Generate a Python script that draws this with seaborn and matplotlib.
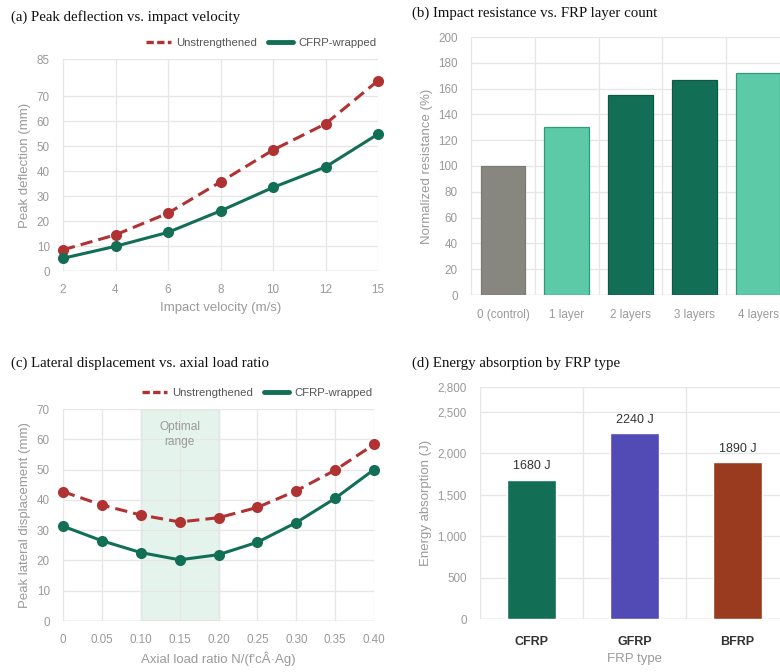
import pandas as pd
import matplotlib.pyplot as plt
import matplotlib.ticker as mticker
from matplotlib.lines import Line2D
import seaborn as sns

# ---- data ----
velocity = ["2", "4", "6", "8", "10", "12", "15"]
defl_unstr = [8.5, 14.5, 23.2, 35.7, 48.5, 59.0, 76.3]
defl_cfrp = [5.1, 9.9, 15.5, 24.1, 33.5, 41.7, 54.9]

layers = ["0 (control)", "1 layer", "2 layers", "3 layers", "4 layers"]
resistance = [100, 130, 155, 167, 172]

load_ratio = [0, 0.05, 0.10, 0.15, 0.20, 0.25, 0.30, 0.35, 0.40]
load_ticks = ["0", "0.05", "0.10", "0.15", "0.20", "0.25", "0.30", "0.35", "0.40"]
disp_unstr = [42.7, 38.3, 35.0, 32.7, 34.1, 37.5, 43.0, 49.8, 58.3]
disp_cfrp = [31.3, 26.5, 22.6, 20.2, 21.9, 26.0, 32.5, 40.5, 50.0]

frp_types = ["CFRP", "GFRP", "BFRP"]
energy = [1680, 2240, 1890]

# ---- style ----
sns.set_theme(style="white")
plt.rcParams["font.family"] = ["Liberation Sans", "DejaVu Sans"]

RED = "#b03232"
GREEN = "#136e56"
LIGHT = "#5cc9a7"
GREY = "#878780"
TICK = "#9a9a9a"
GRID = "#e6e6e6"

W, H = 780, 672
fig = plt.figure(figsize=(W / 100, H / 100), dpi=100)


def add_ax(l, r, t, b):
    return fig.add_axes([l / W, 1 - b / H, (r - l) / W, (b - t) / H])


def base_style(ax):
    for s in ax.spines.values():
        s.set_visible(False)
    ax.grid(True, color=GRID, linewidth=0.9)
    ax.set_axisbelow(True)
    ax.tick_params(colors=GRID, labelcolor=TICK, labelsize=8.4, length=6, width=0.9)
    ax.axhline(0, color="#d4d4d4", linewidth=1.0, zorder=1)


def title(x, y, txt):
    fig.text(x / W, 1 - y / H, txt, family="Liberation Serif", fontsize=10.7,
             color="#111111", va="center", ha="left")


def line_legend(ax):
    handles = [Line2D([], [], color=RED, lw=2.4, ls=(0, (2.2, 1.0))),
               Line2D([], [], color=GREEN, lw=3.5)]
    ax.legend(handles, ["Unstrengthened", "CFRP-wrapped"], loc="lower right",
              bbox_to_anchor=(1.01, 1.03), ncol=2, frameon=False, fontsize=8.2,
              handlelength=2.2, columnspacing=0.9, handletextpad=0.5,
              labelcolor="#555555", borderaxespad=0)


# ---- (a) ----
ax = add_ax(63, 378, 59, 271)
base_style(ax)
df_a = pd.DataFrame({"v": velocity, "u": defl_unstr, "c": defl_cfrp})
sns.lineplot(data=df_a, x="v", y="u", ax=ax, color=RED, lw=2.2, marker="o",
             markersize=8, markeredgewidth=0, clip_on=False, zorder=3)
ax.lines[-1].set_dashes([4, 2])
sns.lineplot(data=df_a, x="v", y="c", ax=ax, color=GREEN, lw=2.2, marker="o",
             markersize=8, markeredgewidth=0, clip_on=False, zorder=3)
ax.set_xlim(0, len(velocity) - 1)
ax.set_ylim(0, 85)
ax.set_yticks([0, 10, 20, 30, 40, 50, 60, 70, 85])
ax.set_xlabel("Impact velocity (m/s)", color=TICK, fontsize=9.5)
ax.set_ylabel("Peak deflection (mm)", color=TICK, fontsize=9.5)
line_legend(ax)
title(11, 17, "(a) Peak deflection vs. impact velocity")

# ---- (b) ----
ax = add_ax(471, 790, 37, 295)
base_style(ax)
df_b = pd.DataFrame({"layer": layers, "res": resistance})
bar_cols = [GREY, LIGHT, GREEN, GREEN, LIGHT]
edge_cols = ["#7a7a74", "#2f9a7a", "#0c5a46", "#0c5a46", "#2f9a7a"]
sns.barplot(data=df_b, x="layer", y="res", hue="layer", palette=bar_cols,
            saturation=1, legend=False, width=0.7, ax=ax, zorder=2)
for p, ec in zip(ax.patches, edge_cols):
    p.set_edgecolor(ec)
    p.set_linewidth(0.9)
ax.set_xlim(-0.5, len(layers) - 0.5)
ax.set_ylim(0, 200)
ax.set_yticks(range(0, 201, 20))
ax.set_xticks([i - 0.5 for i in range(len(layers) + 1)], minor=True)
ax.grid(False, axis="x", which="major")
ax.grid(True, axis="x", which="minor", color=GRID, linewidth=0.9)
ax.tick_params(axis="x", which="major", length=0, pad=10)
ax.tick_params(axis="x", which="minor", length=8, color=GRID, width=0.9)
ax.set_xlabel("")
ax.set_ylabel("Normalized resistance (%)", color=TICK, fontsize=9.5)
title(412, 13, "(b) Impact resistance vs. FRP layer count")

# ---- (c) ----
ax = add_ax(63, 374, 409, 621)
base_style(ax)
ax.axvspan(0.10, 0.20, facecolor="#e4f4ec", edgecolor="#c5dcd2", lw=0.9, zorder=0)
ax.text(0.15, 61.5, "Optimal\nrange", ha="center", va="center", color=TICK,
        fontsize=8.6, linespacing=1.35)
df_c = pd.DataFrame({"r": load_ratio, "u": disp_unstr, "c": disp_cfrp})
sns.lineplot(data=df_c, x="r", y="u", ax=ax, color=RED, lw=2.2, marker="o",
             markersize=8, markeredgewidth=0, clip_on=False, zorder=3)
ax.lines[-1].set_dashes([4, 2])
sns.lineplot(data=df_c, x="r", y="c", ax=ax, color=GREEN, lw=2.2, marker="o",
             markersize=8, markeredgewidth=0, clip_on=False, zorder=3)
ax.set_xlim(0, 0.40)
ax.set_ylim(0, 70)
ax.set_xticks(load_ratio)
ax.set_xticklabels(load_ticks)
ax.set_yticks(range(0, 71, 10))
ax.set_xlabel("Axial load ratio N/(f'cÂ·Ag)", color=TICK, fontsize=9.5)
ax.set_ylabel("Peak lateral displacement (mm)", color=TICK, fontsize=9.5)
line_legend(ax)
title(11, 363, "(c) Lateral displacement vs. axial load ratio")

# ---- (d) ----
ax = add_ax(480, 789, 387, 619)
base_style(ax)
df_d = pd.DataFrame({"type": frp_types, "e": energy})
sns.barplot(data=df_d, x="type", y="e", hue="type",
            palette=[GREEN, "#524bb5", "#9a3b1f"], saturation=1, legend=False,
            width=0.47, ax=ax, zorder=2)
for p, v in zip(ax.patches, energy):
    ax.text(p.get_x() + p.get_width() / 2, v + 90, f"{v} J", ha="center",
            va="bottom", fontsize=9, color="#333333")
ax.set_xlim(-0.5, len(frp_types) - 0.5)
ax.set_ylim(0, 2800)
ax.set_yticks([0, 500, 1000, 1500, 2000, 2500, 2800])
ax.yaxis.set_major_formatter(mticker.FuncFormatter(lambda v, _: f"{v:,.0f}"))
ax.set_xticks([i - 0.5 for i in range(len(frp_types) + 1)], minor=True)
ax.grid(False, axis="x", which="major")
ax.grid(True, axis="x", which="minor", color=GRID, linewidth=0.9)
ax.tick_params(axis="x", which="major", length=0, pad=12, labelcolor="#333333",
               labelsize=9)
for lbl in ax.get_xticklabels():
    lbl.set_fontweight("bold")
ax.tick_params(axis="x", which="minor", length=8, color=GRID, width=0.9)
ax.set_xlabel("FRP type", color=TICK, fontsize=9.5)
ax.set_ylabel("Energy absorption (J)", color=TICK, fontsize=9.5)
title(412, 363, "(d) Energy absorption by FRP type")

fig.savefig("out.png", dpi=100)
